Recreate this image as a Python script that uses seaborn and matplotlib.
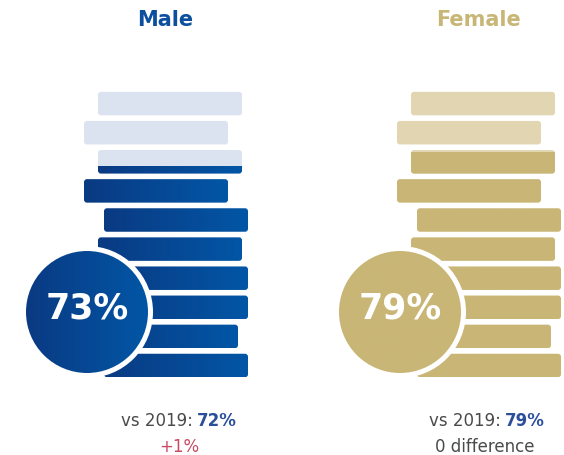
import numpy as np
import matplotlib
matplotlib.use("Agg")
import matplotlib.pyplot as plt
import seaborn as sns
from matplotlib.patches import FancyBboxPatch, Circle
from matplotlib.colors import LinearSegmentedColormap

# data
groups = ["Male", "Female"]
shares = [73, 79]
shares_2019 = [72, 79]
change_labels = ["+1%", "0 difference"]
n_coins = 10

# layout in pixels (axes == figure, 1 unit == 1 px)
W, H = 564, 456
group_x = [84, 397]
coin_shift = [20, 10, 20, 20, 14, 20, 0, 14, 0, 14]  # bottom -> top
coin_w, coin_h, pitch = 144, 23.5, 29.1
base_y = 366.5
circle_x = [87, 400]
circle_y, circle_r = 313, 61
text_cx = [179, 485]
split_x = [195, 503]

palettes = [
    dict(title="#0b4f9e", light="#dbe2f0", cmap=LinearSegmentedColormap.from_list("m", ["#0a3a82", "#0256a6"]),
         change="#c64b63"),
    dict(title="#c8b677", light="#e1d6b1", cmap=LinearSegmentedColormap.from_list("f", ["#c9b676", "#c9b676"]),
         change="#4a4a4a"),
]
grey = "#4a4a4a"
blue_num = "#2c4f9c"

sns.set_theme(style="white")
plt.rcParams["font.family"] = ["DejaVu Sans"]

fig = plt.figure(figsize=(W / 100, H / 100), dpi=100)
ax = fig.add_axes([0, 0, 1, 1])
ramp = np.linspace(0, 1, 256).reshape(1, -1)


def rounded(bar, **kw):
    p = FancyBboxPatch((bar.get_x(), bar.get_y()), bar.get_width(), bar.get_height(),
                       boxstyle="round,pad=0,rounding_size=3", **kw)
    ax.add_patch(p)
    bar.set_visible(False)
    return p


for g, name in enumerate(groups):
    pal = palettes[g]
    share = shares[g]
    idx = np.arange(n_coins)
    ys = base_y - pitch * idx
    lefts = group_x[g] + np.array(coin_shift)
    fill = np.clip(share / 100 * n_coins - idx, 0, 1)

    full = ax.barh(ys, coin_w, left=lefts, height=coin_h)
    dark = ax.barh(ys + coin_h * (1 - fill) / 2, coin_w, left=lefts, height=coin_h * fill)
    for fb, db, f in zip(full, dark, fill):
        shape = rounded(fb, fc=pal["light"] if f < 1 else "none", ec="none", zorder=1)
        db.set_visible(False)
        if f <= 0:
            continue
        x0, y0, w, h = db.get_x(), db.get_y(), db.get_width(), db.get_height()
        im = ax.imshow(ramp, cmap=pal["cmap"], extent=(x0, x0 + w, y0 + h, y0),
                       aspect="auto", zorder=2, interpolation="bilinear")
        im.set_clip_path(shape)

    cx = circle_x[g]
    ax.add_patch(Circle((cx, circle_y), circle_r + 5, fc="white", ec="none", zorder=4))
    disc = Circle((cx, circle_y), circle_r, fc="none", ec="none", zorder=5)
    ax.add_patch(disc)
    im = ax.imshow(ramp, cmap=pal["cmap"],
                   extent=(cx - circle_r, cx + circle_r, circle_y + circle_r, circle_y - circle_r),
                   aspect="auto", zorder=5, interpolation="bilinear")
    im.set_clip_path(disc)
    ax.text(cx, circle_y - 4, f"{share}%", color="white", fontsize=25, fontweight="bold",
            ha="center", va="center", zorder=6)

    ax.text(group_x[g] + 81, 20, name, color=pal["title"], fontsize=15, fontweight="bold",
            ha="center", va="center")

    ax.text(split_x[g] - 2, 421, "vs 2019:", color=grey, fontsize=12,
            ha="right", va="center")
    ax.text(split_x[g] + 2, 421, f"{shares_2019[g]}%", color=blue_num, fontsize=12,
            fontweight="bold", ha="left", va="center")
    ax.text(text_cx[g], 447, change_labels[g], color=pal["change"], fontsize=12,
            ha="center", va="center")

ax.set_xlim(0, W)
ax.set_ylim(H, 0)
ax.axis("off")
fig.savefig("out.png", dpi=100, facecolor="white")
